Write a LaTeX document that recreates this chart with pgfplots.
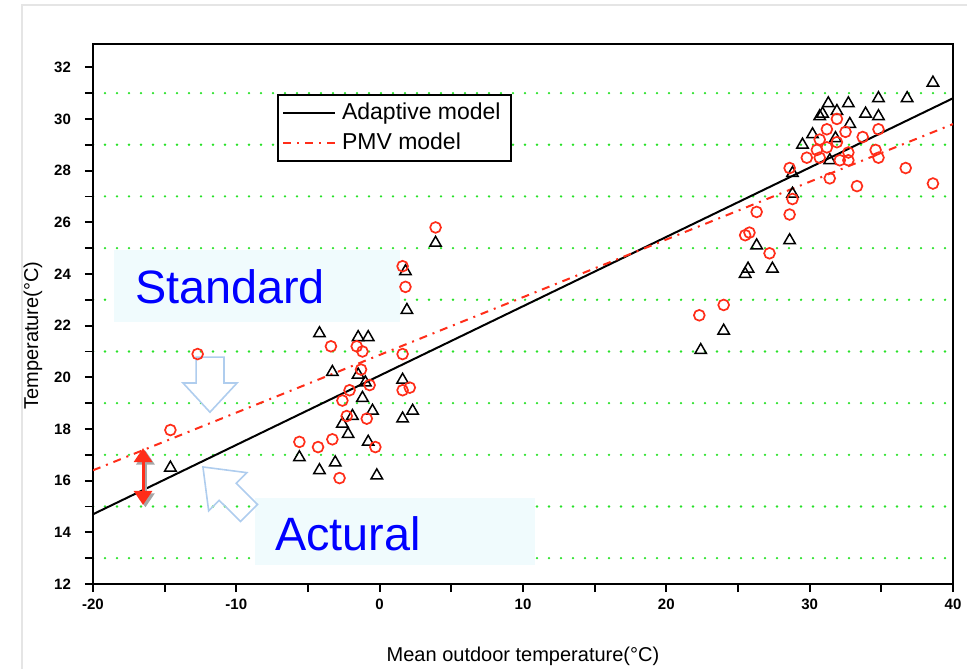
\documentclass[border=0pt]{standalone}
\usepackage{pgfplots}
\usepackage{pgfplotstable}
\pgfplotsset{compat=1.18}
\usepackage{fontspec}
\setmainfont{Liberation Sans}
\usetikzlibrary{arrows.meta}

\definecolor{gridgreen}{RGB}{40,225,40}
\definecolor{ptred}{RGB}{255,45,25}
\definecolor{boxcyan}{RGB}{240,251,253}
\definecolor{arrowblue}{RGB}{175,205,238}

\pgfplotstableread{
x y
-14.6 16.5
-4.2 21.7
-1.5 21.55
-0.8 21.55
-3.3 20.2
-1.5 20.1
-1.0 19.8
1.6 19.9
-1.2 19.2
-0.5 18.7
-1.9 18.5
-2.6 18.2
2.3 18.7
1.6 18.4
-2.2 17.8
-0.8 17.5
-5.6 16.9
-3.1 16.7
-4.2 16.4
-0.2 16.2
1.9 22.6
1.8 24.1
3.9 25.2
22.4 21.05
24.0 21.8
25.5 24.0
25.7 24.2
27.4 24.2
26.3 25.1
28.6 25.3
28.8 27.1
38.6 31.4
31.3 30.6
32.7 30.6
34.8 30.8
36.8 30.8
30.9 30.2
31.9 30.3
33.9 30.2
34.8 30.1
30.7 30.1
32.8 29.8
30.2 29.4
29.5 29.0
31.8 29.25
31.4 28.4
28.8 27.9
}\tridata

\pgfplotstableread{
x y
-12.7 20.9
-14.6 17.96
-3.4 21.2
-1.6 21.2
-1.2 21.0
1.6 20.9
-1.3 20.3
-0.7 19.7
-2.1 19.5
1.6 19.5
2.1 19.6
-2.6 19.1
-2.3 18.5
-0.9 18.4
-5.6 17.5
-3.3 17.6
-4.3 17.3
-0.3 17.3
-2.8 16.1
3.9 25.8
1.6 24.3
1.8 23.5
22.3 22.4
24.0 22.8
25.5 25.5
25.8 25.6
27.2 24.8
26.3 26.4
28.6 26.3
28.8 26.9
31.9 30.0
32.5 29.5
31.2 29.6
34.8 29.6
33.7 29.3
30.7 29.2
31.2 28.9
31.9 29.1
30.5 28.8
29.8 28.5
30.7 28.5
32.7 28.7
32.1 28.4
32.7 28.4
34.6 28.8
34.8 28.5
28.6 28.1
31.4 27.7
33.3 27.4
36.7 28.1
38.6 27.5
}\circdata

\begin{document}
\begin{tikzpicture}
\path[use as bounding box] (-46.5pt,-42.5pt) rectangle (437pt,292pt);
\draw[black!10, line width=0.6pt] (-35.5pt,-42.5pt) -- (-35.5pt,289.5pt) -- (437pt,289.5pt);
\begin{axis}[
  scale only axis, width=430pt, height=270pt,
  xmin=-20, xmax=40, ymin=12, ymax=32.9,
  xtick={-20,-10,...,40}, minor xtick={-15,-5,...,35},
  ytick={12,14,...,32}, minor ytick={13,15,...,31},
  tick align=outside, tick pos=left,
  major tick length=4pt, minor tick length=4pt,
  every tick/.style={black, line width=0.9pt},
  axis line style={line width=1pt},
  yminorgrids=true,
  minor grid style={gridgreen, line width=1.3pt, dash pattern=on 0pt off 6pt, line cap=round},
  /pgf/number format/assume math mode=true,
  ticklabel style={font=\fontsize{7.5}{9}\selectfont\bfseries},
  yticklabel style={xshift=-3.5pt},
  xlabel={Mean outdoor temperature(°C)},
  ylabel={Temperature(°C)},
  label style={font=\fontsize{11}{13}\selectfont},
  every axis x label/.style={at={(axis description cs:0.5,0)}, yshift=-36pt, anchor=center},
  every axis y label/.style={at={(axis description cs:0,0.46)}, xshift=-30pt, rotate=90, anchor=center},
  legend style={at={(rel axis cs:0.214,0.907)}, anchor=north west, draw=black, line width=1pt,
    fill=white, font=\fontsize{11.5}{13}\selectfont, inner xsep=2pt, inner ysep=2pt,
    row sep=1pt, nodes={inner sep=2pt, inner xsep=3pt}},
  legend cell align=left,
  legend image code/.code={\draw[#1] (0pt,0pt) -- (26pt,0pt);},
]
% annotation boxes (under the data)
\fill[boxcyan] (axis cs:-18.53,22.14) rectangle (axis cs:1.42,24.92);
\fill[boxcyan] (axis cs:-8.70,12.73) rectangle (axis cs:10.84,15.33);
% hollow block arrows
\draw[arrowblue, line width=0.8pt, fill=white]
  (axis cs:-12.81,20.78) -- (axis cs:-10.86,20.78) -- (axis cs:-10.86,19.78) -- (axis cs:-9.95,19.78)
  -- (axis cs:-11.84,18.65) -- (axis cs:-13.72,19.78) -- (axis cs:-12.81,19.78) -- cycle;
\draw[arrowblue, line width=0.8pt]
  (axis cs:-12.33,16.53) -- (axis cs:-9.27,16.31) -- (axis cs:-10.01,15.90) -- (axis cs:-8.52,15.08)
  -- (axis cs:-9.71,14.42) -- (axis cs:-11.20,15.24) -- (axis cs:-11.93,14.83) -- cycle;

\addplot[black, line width=1pt] coordinates {(-20,14.7) (40,30.8)};
\addlegendentry{Adaptive model}
\addplot[ptred, line width=1pt, dash pattern=on 4pt off 3pt on 1pt off 3pt] coordinates {(-20,16.4) (40,29.8)};
\addlegendentry{PMV model}

\addplot[only marks, mark=triangle, mark size=3.3pt, black, mark options={line width=0.75pt}, forget plot] table {\tridata};
\addplot[only marks, mark=o, mark size=2.7pt, ptred, mark options={line width=0.85pt}, forget plot] table {\circdata};

% red double arrow with shadow
\draw[black!35, line width=1.5pt, {Triangle[width=9pt,length=7pt]}-{Triangle[width=9pt,length=7pt]}, xshift=1.2pt, yshift=-1.2pt]
  (axis cs:-16.51,15.06) -- (axis cs:-16.51,17.26);
\draw[ptred, line width=1.5pt, {Triangle[width=9pt,length=7pt]}-{Triangle[width=9pt,length=7pt]}]
  (axis cs:-16.51,15.06) -- (axis cs:-16.51,17.26);

\node[text=blue, font=\fontsize{23.4}{26}\selectfont] at (axis cs:-10.44,23.49) {Standard};
\node[text=blue, font=\fontsize{23.4}{26}\selectfont] at (axis cs:-2.21,13.93) {Actural};
\end{axis}
\end{tikzpicture}
\end{document}
